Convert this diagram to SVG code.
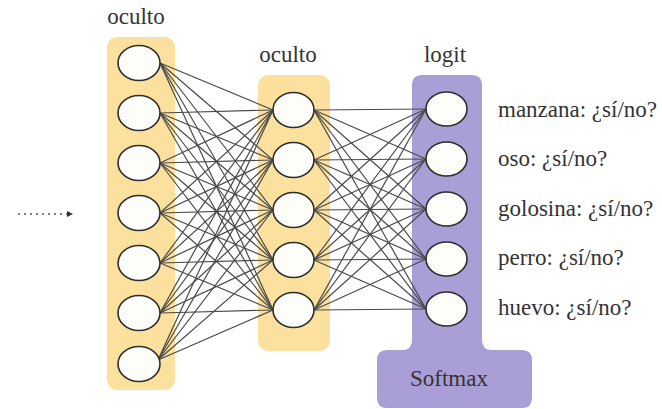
<svg xmlns="http://www.w3.org/2000/svg" width="662" height="409" viewBox="0 0 662 409">
<defs>
<style>
.lbl{font-family:'Liberation Serif','Times New Roman',serif;font-size:23px;fill:#333}
.n{fill:#fdfdf9;stroke:#2e2e2e;stroke-width:1.6}
.c line{stroke:#4a4a4a;stroke-width:1.2}
.y{fill:#fbe19d}
.p{fill:#aa9ed6}
</style>
<marker id="ah" markerWidth="6" markerHeight="6" refX="5" refY="3" orient="auto" markerUnits="userSpaceOnUse">
<path d="M0,0 L6,3 L0,6 Z" fill="#333"/>
</marker>
</defs>
<rect width="662" height="409" fill="#ffffff"/>

<g id="layer1-box"><rect class="y" x="107" y="37" width="68" height="353" rx="10"/></g>
<g id="layer2-box"><rect class="y" x="258" y="75" width="72" height="276" rx="10"/></g>
<g id="logit-box"><path class="p" d="M422 75 H472 Q482 75 482 85 V340 Q482 350 492 350 H522 Q532 350 532 360 V398 Q532 408 522 408 H387 Q377 408 377 398 V360 Q377 350 387 350 H402 Q412 350 412 340 V85 Q412 75 422 75 Z"/></g>

<g>
<text id="lbl-oculto1" class="lbl" x="136" y="24" text-anchor="middle">oculto</text>
<text id="lbl-oculto2" class="lbl" x="288" y="62" text-anchor="middle">oculto</text>
<text id="lbl-logit" class="lbl" x="445" y="62" text-anchor="middle">logit</text>
</g>

<g class="c" id="connectors">
<line x1="18" y1="214" x2="72" y2="214" stroke-dasharray="2 4" marker-end="url(#ah)" style="stroke:#555;stroke-width:1.5"/>
<line x1="160" y1="63" x2="273" y2="110"/><line x1="160" y1="63" x2="273" y2="160"/><line x1="160" y1="63" x2="273" y2="210"/><line x1="160" y1="63" x2="273" y2="260"/><line x1="160" y1="63" x2="273" y2="310"/>
<line x1="160" y1="113" x2="273" y2="110"/><line x1="160" y1="113" x2="273" y2="160"/><line x1="160" y1="113" x2="273" y2="210"/><line x1="160" y1="113" x2="273" y2="260"/><line x1="160" y1="113" x2="273" y2="310"/>
<line x1="160" y1="163" x2="273" y2="110"/><line x1="160" y1="163" x2="273" y2="160"/><line x1="160" y1="163" x2="273" y2="210"/><line x1="160" y1="163" x2="273" y2="260"/><line x1="160" y1="163" x2="273" y2="310"/>
<line x1="160" y1="213" x2="273" y2="110"/><line x1="160" y1="213" x2="273" y2="160"/><line x1="160" y1="213" x2="273" y2="210"/><line x1="160" y1="213" x2="273" y2="260"/><line x1="160" y1="213" x2="273" y2="310"/>
<line x1="160" y1="263" x2="273" y2="110"/><line x1="160" y1="263" x2="273" y2="160"/><line x1="160" y1="263" x2="273" y2="210"/><line x1="160" y1="263" x2="273" y2="260"/><line x1="160" y1="263" x2="273" y2="310"/>
<line x1="160" y1="313" x2="273" y2="110"/><line x1="160" y1="313" x2="273" y2="160"/><line x1="160" y1="313" x2="273" y2="210"/><line x1="160" y1="313" x2="273" y2="260"/><line x1="160" y1="313" x2="273" y2="310"/>
<line x1="158" y1="360" x2="273" y2="110"/><line x1="158" y1="360" x2="273" y2="160"/><line x1="158" y1="360" x2="273" y2="210"/><line x1="158" y1="360" x2="273" y2="260"/><line x1="158" y1="360" x2="273" y2="310"/>
<line x1="314" y1="110" x2="426" y2="109"/><line x1="314" y1="110" x2="426" y2="159"/><line x1="314" y1="110" x2="426" y2="209"/><line x1="314" y1="110" x2="426" y2="259"/><line x1="314" y1="110" x2="426" y2="309"/>
<line x1="314" y1="160" x2="426" y2="109"/><line x1="314" y1="160" x2="426" y2="159"/><line x1="314" y1="160" x2="426" y2="209"/><line x1="314" y1="160" x2="426" y2="259"/><line x1="314" y1="160" x2="426" y2="309"/>
<line x1="314" y1="210" x2="426" y2="109"/><line x1="314" y1="210" x2="426" y2="159"/><line x1="314" y1="210" x2="426" y2="209"/><line x1="314" y1="210" x2="426" y2="259"/><line x1="314" y1="210" x2="426" y2="309"/>
<line x1="314" y1="260" x2="426" y2="109"/><line x1="314" y1="260" x2="426" y2="159"/><line x1="314" y1="260" x2="426" y2="209"/><line x1="314" y1="260" x2="426" y2="259"/><line x1="314" y1="260" x2="426" y2="309"/>
<line x1="314" y1="310" x2="426" y2="109"/><line x1="314" y1="310" x2="426" y2="159"/><line x1="314" y1="310" x2="426" y2="209"/><line x1="314" y1="310" x2="426" y2="259"/><line x1="314" y1="310" x2="426" y2="309"/>
</g>

<g id="h1-1"><ellipse class="n" cx="139" cy="63" rx="21" ry="17.5"/></g>
<g id="h1-2"><ellipse class="n" cx="139" cy="113" rx="21" ry="17.5"/></g>
<g id="h1-3"><ellipse class="n" cx="139" cy="163" rx="21" ry="17.5"/></g>
<g id="h1-4"><ellipse class="n" cx="139" cy="213" rx="21" ry="17.5"/></g>
<g id="h1-5"><ellipse class="n" cx="139" cy="263" rx="21" ry="17.5"/></g>
<g id="h1-6"><ellipse class="n" cx="139" cy="313" rx="21" ry="17.5"/></g>
<g id="h1-7"><ellipse class="n" cx="139" cy="364" rx="21" ry="17.5"/></g>

<g id="h2-1"><ellipse class="n" cx="293.5" cy="110" rx="20.5" ry="17.5"/></g>
<g id="h2-2"><ellipse class="n" cx="293.5" cy="160" rx="20.5" ry="17.5"/></g>
<g id="h2-3"><ellipse class="n" cx="293.5" cy="210" rx="20.5" ry="17.5"/></g>
<g id="h2-4"><ellipse class="n" cx="293.5" cy="260" rx="20.5" ry="17.5"/></g>
<g id="h2-5"><ellipse class="n" cx="293.5" cy="310" rx="20.5" ry="17.5"/></g>

<g id="o-1"><ellipse class="n" cx="446.5" cy="109" rx="20.5" ry="17"/><text class="lbl" x="498" y="117">manzana: ¿sí/no?</text></g>
<g id="o-2"><ellipse class="n" cx="446.5" cy="159" rx="20.5" ry="17"/><text class="lbl" x="498" y="166">oso: ¿sí/no?</text></g>
<g id="o-3"><ellipse class="n" cx="446.5" cy="209" rx="20.5" ry="17"/><text class="lbl" x="498" y="216">golosina: ¿sí/no?</text></g>
<g id="o-4"><ellipse class="n" cx="446.5" cy="259" rx="20.5" ry="17"/><text class="lbl" x="498" y="265">perro: ¿sí/no?</text></g>
<g id="o-5"><ellipse class="n" cx="446.5" cy="309" rx="20.5" ry="17"/><text class="lbl" x="498" y="315">huevo: ¿sí/no?</text></g>

<g id="softmax"><text class="lbl" x="449" y="386" text-anchor="middle">Softmax</text></g>
</svg>
